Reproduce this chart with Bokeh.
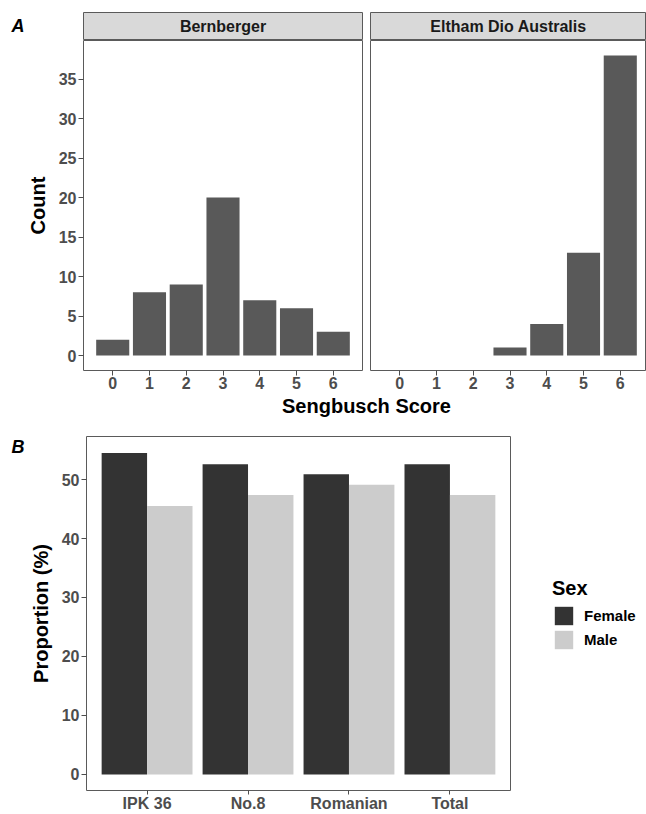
from bokeh.plotting import figure
from bokeh.layouts import column, row
from bokeh.models import (Legend, LegendItem, FixedTicker, ColumnDataSource,
                          Range1d, FactorRange)
from bokeh.transform import dodge
from bokeh.embed import file_html
from bokeh.resources import INLINE
from bokeh.core.properties import value

# ---------------- data ----------------
scores = [0, 1, 2, 3, 4, 5, 6]
bernberger = [2, 8, 9, 20, 7, 6, 3]
eltham = [0, 0, 0, 1, 4, 13, 38]
facets = ["Bernberger", "Eltham Dio Australis"]
count_ticks = [0, 5, 10, 15, 20, 25, 30, 35]

groups = ["IPK 36", "No.8", "Romanian", "Total"]
female = [54.5, 52.6, 50.9, 52.6]
male = [45.5, 47.4, 49.1, 47.4]
sexes = ["Female", "Male"]
prop_ticks = [0, 10, 20, 30, 40, 50]

# ---------------- style ----------------
FONT = "Liberation Sans"
BORDER = "#5a5a5a"
TICKCOL = "#4D4D4D"
STRIP_FILL = "#D9D9D9"
BAR_TOP = "#595959"
SEX_COLORS = ["#333333", "#CCCCCC"]
LEFT_W = 26


def blank(width, height):
    f = figure(width=width, height=height, min_border=0, title=None,
               x_range=Range1d(0, 1), y_range=Range1d(0, 1),
               x_axis_location=None, y_axis_location=None,
               toolbar_location=None, output_backend="svg")
    f.xgrid.visible = False
    f.ygrid.visible = False
    f.outline_line_color = None
    f.background_fill_color = "white"
    f.border_fill_color = "white"
    return f


def panel_letter(f, letter, x, y):
    f.text(x=[x], y=[y], text=[letter], text_align="left", text_baseline="alphabetic",
           text_font=value(FONT), text_font_style="bold italic", text_font_size="18px",
           text_color="black")


def style_axes(p):
    p.xgrid.visible = False
    p.ygrid.visible = False
    p.outline_line_color = BORDER
    p.outline_line_width = 1
    p.background_fill_color = "white"
    p.border_fill_color = "white"
    for ax in p.axis:
        ax.axis_line_color = None
        ax.major_tick_line_color = TICKCOL
        ax.major_tick_out = 5
        ax.major_tick_in = 0
        ax.minor_tick_line_color = None
        ax.major_label_text_font = FONT
        ax.major_label_text_font_style = "bold"
        ax.major_label_text_font_size = "16px"
        ax.major_label_text_color = TICKCOL
        ax.major_label_standoff = 2
        ax.axis_label_text_font = FONT
        ax.axis_label_text_font_style = "bold"
        ax.axis_label_text_font_size = "20px"
        ax.axis_label_text_color = "black"


# ---------------- panel A ----------------
x_lo = -0.795
px_per_unit = 279 / (6.795 - x_lo)
x_hi_right = x_lo + 276 / px_per_unit
y_rng = (-1.9, 39.9)


def strip(width, left, right, label):
    s = figure(width=width, height=40, min_border_left=left, min_border_right=right,
               min_border_top=12, min_border_bottom=0, title=None,
               x_range=Range1d(0, 1), y_range=Range1d(0, 1),
               x_axis_location=None, y_axis_location=None,
               toolbar_location=None, output_backend="svg")
    s.xgrid.visible = False
    s.ygrid.visible = False
    s.background_fill_color = STRIP_FILL
    s.border_fill_color = "white"
    s.outline_line_color = BORDER
    s.text(x=[0.5], y=[0.5], text=[label], text_align="center", text_baseline="middle",
           text_font=value(FONT), text_font_style="bold", text_font_size="16px",
           text_color="#1A1A1A")
    return s


a_fig = blank(LEFT_W, 40)
panel_letter(a_fig, "A", 11 / LEFT_W, (40 - 19) / 40)
s1 = strip(366 - LEFT_W, 83 - LEFT_W, 4, facets[0])
s2 = strip(280, 4, 0, facets[1])


def panel(width, left, right, xr, counts, show_y):
    p = figure(width=width, height=354, min_border_left=left, min_border_right=right,
               min_border_top=0, min_border_bottom=24, title=None,
               x_range=Range1d(*xr), y_range=Range1d(*y_rng),
               y_axis_location="left" if show_y else None,
               toolbar_location=None, output_backend="svg")
    src = ColumnDataSource(dict(score=scores, count=counts))
    p.vbar(x="score", top="count", bottom=0, width=0.9, source=src,
           fill_color=BAR_TOP, line_color=None)
    style_axes(p)
    p.xaxis.ticker = FixedTicker(ticks=scores)
    p.xaxis.major_label_standoff = 1
    if show_y:
        p.yaxis.ticker = FixedTicker(ticks=count_ticks)
        p.yaxis.axis_label = "Count"
        p.yaxis.axis_label_standoff = 7
    return p


p1 = panel(366, 83, 4, (x_lo, 6.795), bernberger, True)
p2 = panel(280, 4, 0, (x_lo, x_hi_right), eltham, False)

t = blank(646, 28)
t.text(x=[(83 + 649) / 2 / 646], y=[(422 - 405) / 28], text=["Sengbusch Score"],
       text_align="center", text_baseline="alphabetic", text_font=value(FONT),
       text_font_style="bold", text_font_size="20px", text_color="black")

# ---------------- panel B ----------------
b_fig = blank(LEFT_W, 392)
panel_letter(b_fig, "B", 11 / LEFT_W, (814 - 434) / 392)

p3 = figure(width=514 - LEFT_W, height=392, min_border_left=81 - LEFT_W, min_border_right=4,
            min_border_top=14, min_border_bottom=20, title=None,
            x_range=FactorRange(factors=groups, range_padding=0.1,
                                range_padding_units="absolute"),
            y_range=Range1d(-2.73, 57.3),
            toolbar_location=None, output_backend="svg")
src3 = ColumnDataSource(dict(group=groups, Female=female, Male=male))
p3.vbar(x=dodge("group", -0.225, range=p3.x_range), top=sexes[0], bottom=0, width=0.45,
        source=src3, fill_color=SEX_COLORS[0], line_color=None)
p3.vbar(x=dodge("group", 0.225, range=p3.x_range), top=sexes[1], bottom=0, width=0.45,
        source=src3, fill_color=SEX_COLORS[1], line_color=None)
style_axes(p3)
p3.yaxis.ticker = FixedTicker(ticks=prop_ticks)
p3.yaxis.axis_label = "Proportion (%)"
p3.yaxis.axis_label_standoff = 7
p3.xaxis.major_label_standoff = 0
p3.xaxis.major_tick_out = 4

# legend in its own blank panel to the right of panel B
# (key renderers carry one zero-height bar each so the legend draws their swatches)
leg_fig = blank(132, 392)
key_src = ColumnDataSource(dict(x=[0.5], top=[0.0]))
kf = leg_fig.vbar(x="x", top="top", bottom=0.0, width=0.0, source=key_src,
                  fill_color=SEX_COLORS[0], line_color=None)
km = leg_fig.vbar(x="x", top="top", bottom=0.0, width=0.0, source=key_src,
                  fill_color=SEX_COLORS[1], line_color=None)
legend = Legend(items=[LegendItem(label=sexes[0], renderers=[kf]),
                       LegendItem(label=sexes[1], renderers=[km])],
                title="Sex", location=(38, 139), orientation="vertical",
                glyph_width=23, glyph_height=23, spacing=1, padding=0, margin=0,
                label_standoff=9, label_text_font=FONT, label_text_font_style="bold",
                label_text_font_size="15px", label_text_color="black",
                title_text_font=FONT, title_text_font_style="bold", title_text_font_size="20px",
                title_text_color="black", title_standoff=4,
                border_line_color=None, background_fill_alpha=0)
leg_fig.add_layout(legend)

layout = column(row(a_fig, s1, s2), row(p1, p2), t, row(b_fig, p3, leg_fig))
open("out.html", "w").write(file_html(layout, INLINE))
